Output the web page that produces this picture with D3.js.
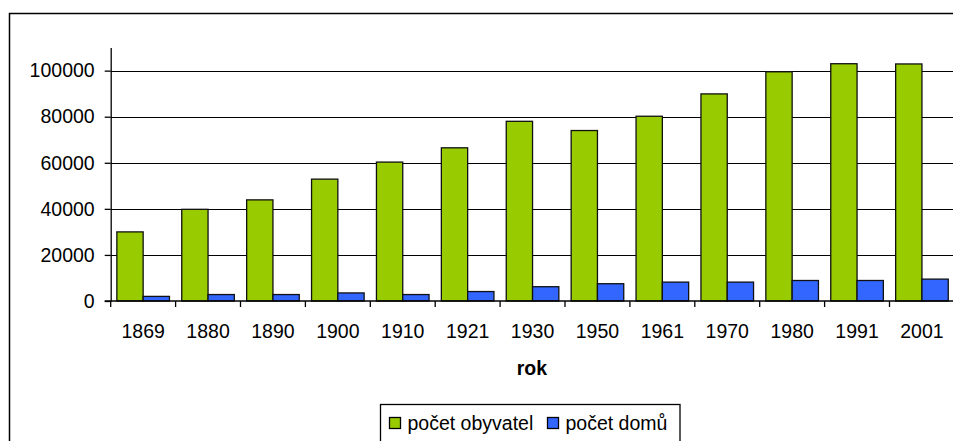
<!DOCTYPE html>
<html>
<head>
<meta charset="utf-8">
<script src="https://d3js.org/d3.v7.min.js"></script>
<style>
  html, body { margin: 0; padding: 0; background: #fff; overflow: hidden; }
  svg { display: block; font-family: "Liberation Sans", Arial, sans-serif; }
</style>
</head>
<body>
<div class="plot"></div>
<script>
"use strict";

// data
var years = ["1869", "1880", "1890", "1900", "1910", "1921", "1930", "1950", "1961", "1970", "1980", "1991", "2001"];
var obyvatel = [30000, 39800, 43900, 52900, 60300, 66500, 78000, 74000, 80200, 89900, 99500, 103000, 102900];
var domu = [2000, 2800, 2800, 3500, 2800, 4100, 6200, 7500, 8200, 8200, 8900, 8900, 9500];
var seriesNames = ["počet obyvatel", "počet domů"];
var seriesColors = ["#99CC00", "#3366FF"];
var yTicks = [0, 20000, 40000, 60000, 80000, 100000];

var width = 953, height = 441;
var fontSize = 19.5;

var svg = d3.select(".plot")
    .append("svg")
    .attr("width", width)
    .attr("height", height);

// outer chart frame (runs past the right and bottom edges)
svg.append("rect")
    .attr("x", 9.5)
    .attr("y", 13.5)
    .attr("width", 960)
    .attr("height", 460)
    .attr("fill", "none")
    .attr("stroke", "#000")
    .attr("stroke-width", 1.5);

var x = d3.scaleBand()
    .domain(years)
    .range([110.7, 954.4])
    .paddingInner(0)
    .paddingOuter(0);

var xSub = d3.scaleBand()
    .domain(seriesNames)
    .range([0, x.bandwidth()])
    .paddingInner(0)
    .paddingOuter(0.234);

var y = d3.scaleLinear()
    .domain([0, 110000])
    .range([301, 47.6]);

// gridlines
svg.append("g")
    .selectAll("line")
    .data(yTicks.filter(d => d > 0))
    .enter()
    .append("line")
    .attr("x1", x.range()[0])
    .attr("x2", x.range()[1])
    .attr("y1", d => Math.round(y(d)) + 0.5)
    .attr("y2", d => Math.round(y(d)) + 0.5)
    .attr("stroke", "#000")
    .attr("stroke-width", 1);

// bars
var rows = years.map((yr, i) => ({ year: yr, values: [obyvatel[i], domu[i]] }));

var groups = svg.append("g")
    .selectAll("g")
    .data(rows)
    .enter()
    .append("g")
    .attr("transform", d => "translate(" + x(d.year) + ",0)");

groups.selectAll("rect")
    .data(d => d.values.map((v, j) => ({ name: seriesNames[j], value: v, color: seriesColors[j] })))
    .enter()
    .append("rect")
    .attr("x", d => xSub(d.name))
    .attr("y", d => y(d.value))
    .attr("width", xSub.bandwidth())
    .attr("height", d => y(0) - y(d.value))
    .attr("fill", d => d.color)
    .attr("stroke", "#111")
    .attr("stroke-width", 1.3);

// y axis
var yAxis = svg.append("g")
    .attr("transform", "translate(" + x.range()[0] + ",0)")
    .call(d3.axisLeft(y).tickValues(yTicks).tickFormat(d3.format("d"))
        .tickSize(6).tickPadding(10).tickSizeOuter(0));
yAxis.select(".domain").attr("stroke", "#000").attr("stroke-width", 1.3);
yAxis.selectAll(".tick line").attr("stroke", "#000").attr("stroke-width", 1.3);
yAxis.selectAll("text")
    .attr("fill", "#000")
    .style("font-size", fontSize + "px")
    .style("font-family", "'Liberation Sans', Arial, sans-serif");

// x axis: labels at band centres, ticks at band boundaries
var xAxis = svg.append("g")
    .attr("transform", "translate(0," + y(0) + ")")
    .call(d3.axisBottom(x).tickSize(0).tickPadding(23.2).tickSizeOuter(0));
xAxis.select(".domain").remove();
xAxis.selectAll("text")
    .attr("fill", "#000")
    .style("font-size", fontSize + "px")
    .style("font-family", "'Liberation Sans', Arial, sans-serif");

svg.append("line")
    .attr("x1", x.range()[0] - 6)
    .attr("x2", x.range()[1])
    .attr("y1", y(0))
    .attr("y2", y(0))
    .attr("stroke", "#000")
    .attr("stroke-width", 1.5);

svg.append("g")
    .selectAll("line")
    .data(years)
    .enter()
    .append("line")
    .attr("x1", d => x(d))
    .attr("x2", d => x(d))
    .attr("y1", y(0))
    .attr("y2", y(0) + 6)
    .attr("stroke", "#000")
    .attr("stroke-width", 1.3);

// axis title
svg.append("text")
    .attr("x", (x.range()[0] + 953) / 2)
    .attr("y", 375)
    .attr("text-anchor", "middle")
    .attr("font-weight", "bold")
    .style("font-size", fontSize + "px")
    .text("rok");

// legend
var legend = svg.append("g").attr("transform", "translate(380.5,404.5)");
legend.append("rect")
    .attr("width", 299.5)
    .attr("height", 50)
    .attr("fill", "#fff")
    .attr("stroke", "#000")
    .attr("stroke-width", 1.3);

var legendX = [9, 167];
seriesNames.forEach((name, i) => {
    var item = legend.append("g").attr("transform", "translate(" + legendX[i] + ",0)");
    item.append("rect")
        .attr("x", 0)
        .attr("y", 13)
        .attr("width", 11)
        .attr("height", 11)
        .attr("fill", seriesColors[i])
        .attr("stroke", "#000")
        .attr("stroke-width", 1.3);
    item.append("text")
        .attr("x", 18)
        .attr("y", 25.5)
        .style("font-size", fontSize + "px")
        .text(name);
});
</script>
</body>
</html>
